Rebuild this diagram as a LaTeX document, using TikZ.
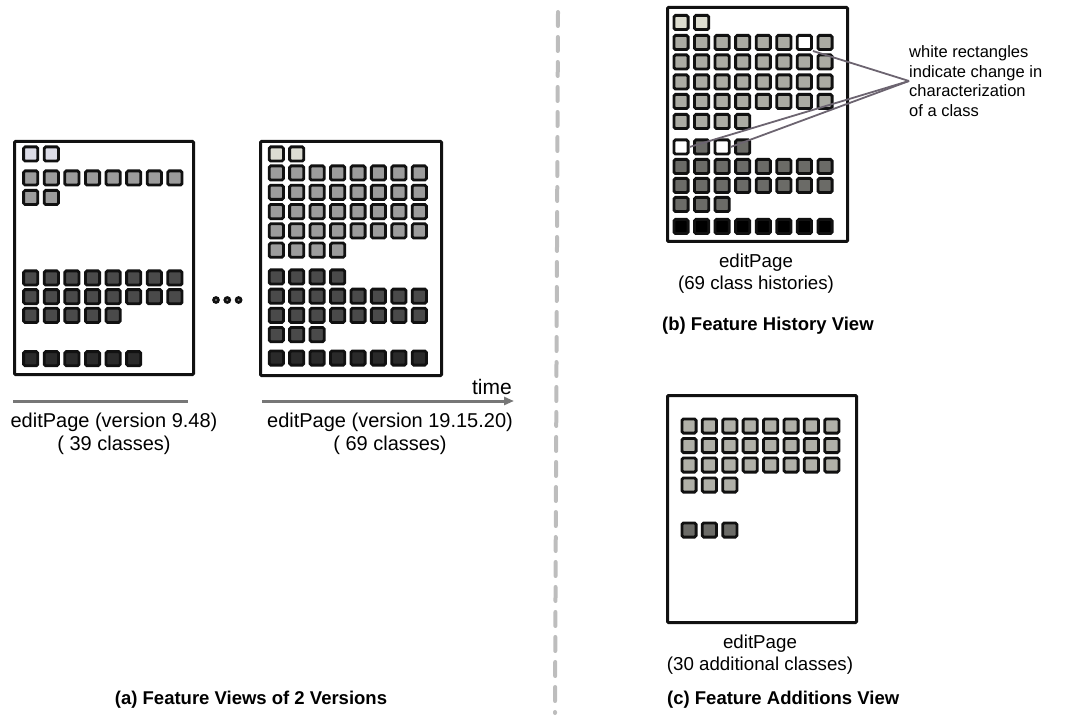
\documentclass[tikz,border=0pt]{standalone}
\usepackage{fontspec}
\setmainfont{Liberation Sans}
\usetikzlibrary{arrows.meta,positioning}
\definecolor{Ink}{HTML}{111111}
\definecolor{lavfill}{HTML}{DCDCE6}
\definecolor{creamfill}{HTML}{DCDCD2}
\definecolor{midgray}{HTML}{9C9C9C}
\definecolor{darkgray}{HTML}{4A4A4A}
\definecolor{coal}{HTML}{2A2A2A}
\definecolor{histlight}{HTML}{DDDDD0}
\definecolor{histmid}{HTML}{ABABA3}
\definecolor{histdark}{HTML}{6B6B67}
\definecolor{addmid}{HTML}{B0B0A8}
\definecolor{Axis}{HTML}{777777}
\definecolor{Pointer}{HTML}{6C6470}
\definecolor{Split}{HTML}{BDBDBD}
\tikzset{
  page/.style={rectangle,draw=Ink,line width=3pt,rounded corners=1pt,inner sep=0pt},
  cls/.style={rectangle,draw=Ink,line width=2.8pt,rounded corners=1.5pt,minimum size=14.2pt,inner sep=0pt},
  capt/.style={font=\fontsize{20}{23}\selectfont,align=center},
  ttl/.style={font=\fontsize{18.5}{21}\selectfont\bfseries},
  tl/.style={draw=Axis,line width=3pt},
  ptr/.style={draw=Pointer,line width=1.8pt},
  dot/.style={circle,draw=Ink,fill=gray,line width=2.6pt,minimum size=5pt,inner sep=0pt},
}
% one row of class squares: name, first x, pitch, y, count, fill
\newcommand\clsrow[6]{\foreach \i in {1,...,#5}{\node[cls,fill=#6] (#1-\i) at ({#2+(\i-1)*#3},#4) {};}}

\begin{document}
\begin{tikzpicture}[x=1pt,y=-1pt]
\useasboundingbox (0,0) rectangle (1065,719);
% -two versions-
\node[page,minimum width=179pt,minimum height=233pt] (pgA) at (104,258) {};
\clsrow{aL}{30.7}{20.6}{154}{2}{lavfill}
\clsrow{aG1}{30.7}{20.6}{178}{8}{midgray}
\clsrow{aG2}{30.7}{20.6}{197.5}{2}{midgray}
\clsrow{aD1}{30.7}{20.6}{278}{8}{darkgray}
\clsrow{aD2}{30.7}{20.6}{296.7}{8}{darkgray}
\clsrow{aD3}{30.7}{20.6}{315.4}{5}{darkgray}
\clsrow{aK}{30.7}{20.6}{358.7}{6}{coal}
\node[page,minimum width=181pt,minimum height=234pt] (pgB) at (351,258.5) {};
\clsrow{bL}{276.3}{20.43}{154}{2}{creamfill}
\clsrow{bG1}{276.3}{20.43}{173}{8}{midgray}
\clsrow{bG2}{276.3}{20.43}{192.3}{8}{midgray}
\clsrow{bG3}{276.3}{20.43}{211.6}{8}{midgray}
\clsrow{bG4}{276.3}{20.43}{230.9}{8}{midgray}
\clsrow{bG5}{276.3}{20.43}{250.2}{4}{midgray}
\clsrow{bD1}{276.3}{20.43}{277}{4}{darkgray}
\clsrow{bD2}{276.3}{20.43}{296.2}{8}{darkgray}
\clsrow{bD3}{276.3}{20.43}{315.4}{8}{darkgray}
\clsrow{bD4}{276.3}{20.43}{334.6}{3}{darkgray}
\clsrow{bK}{276.3}{20.43}{358}{8}{coal}
\foreach \k in {0,1,2} \node[dot] (more-\k) at ({216+\k*11.3},300) {};
\coordinate (t0) at (13,401); \coordinate (t1) at (188,401);
\coordinate (t2) at (262,401); \coordinate (t3) at (514,401);
\draw[tl] (t0) -- (t1);
\draw[tl,-{Triangle[length=10pt,width=8pt]}] (t2) -- (t3);
\node[anchor=base east,font=\fontsize{21}{24}\selectfont,inner sep=0pt] (tm) at (512,394) {time};
\node[capt] (capA1) at (114,433.5) {editPage (version 9.48)\\( 39 classes)};
\node[capt] (capA2) at (390,433.5) {editPage (version 19.15.20)\\( 69 classes)};
\node[ttl] (ttlA) at (251,700) {(a) Feature Views of 2 Versions};
% -separator-
\coordinate (s0) at (558,12); \coordinate (s1) at (555,713);
\draw[Split,line width=4pt,line cap=round,dash pattern=on 14pt off 11pt] (s0) -- (s1);
% -history view-
\node[page,minimum width=180pt,minimum height=234pt] (pgH) at (757.5,124.5) {};
\clsrow{hL}{681}{20.57}{22.5}{2}{histlight}
\clsrow{hG1}{681}{20.57}{42.5}{6}{histmid}
\node[cls,fill=white] (w1) at (804.4,42.5) {};
\node[cls,fill=histmid] (hG1-8) at (825,42.5) {};
\clsrow{hG2}{681}{20.57}{62}{8}{histmid}
\clsrow{hG3}{681}{20.57}{82}{8}{histmid}
\clsrow{hG4}{681}{20.57}{101.5}{8}{histmid}
\clsrow{hG5}{681}{20.57}{121.5}{4}{histmid}
\node[cls,fill=white] (w2) at (681,147) {};
\node[cls,fill=histdark] (hX-2) at (701.6,147) {};
\node[cls,fill=white] (w3) at (722.1,147) {};
\node[cls,fill=histdark] (hX-4) at (742.7,147) {};
\clsrow{hD1}{681}{20.57}{166.5}{8}{histdark}
\clsrow{hD2}{681}{20.57}{185.5}{8}{histdark}
\clsrow{hD3}{681}{20.57}{204.5}{3}{histdark}
\clsrow{hK}{681}{20.57}{226.5}{8}{black}
\node[anchor=west,align=left,inner sep=0pt,font=\fontsize{16.5}{19.5}\selectfont] (note) at (909,81) {white rectangles\\indicate change in\\characterization\\of a class};
\draw[ptr] (w1.south east) -- (note.west);
\draw[ptr] (w2.east) -- (note.west);
\draw[ptr] (w3.east) -- (note.west);
\node[capt,font=\fontsize{18.7}{22}\selectfont] (capH) at (756,274) {editPage\\(69 class histories)};
\node[ttl,anchor=west,inner sep=0pt] (ttlH) at (662,326) {(b) Feature History View};
% -additions view-
\node[page,minimum width=189pt,minimum height=227pt] (pgC) at (762,509) {};
\clsrow{cG1}{689}{20.4}{426}{8}{addmid}
\clsrow{cG2}{689}{20.4}{445.5}{8}{addmid}
\clsrow{cG3}{689}{20.4}{465}{8}{addmid}
\clsrow{cG4}{689}{20.4}{485}{3}{addmid}
\clsrow{cD}{689}{20.4}{530}{3}{histdark}
\node[capt,font=\fontsize{18.7}{22}\selectfont] (capC) at (760,655) {editPage\\(30 additional classes)};
\node[ttl,anchor=west,inner sep=0pt] (ttlC) at (667,700) {(c) Feature Additions View};
\end{tikzpicture}
\end{document}
